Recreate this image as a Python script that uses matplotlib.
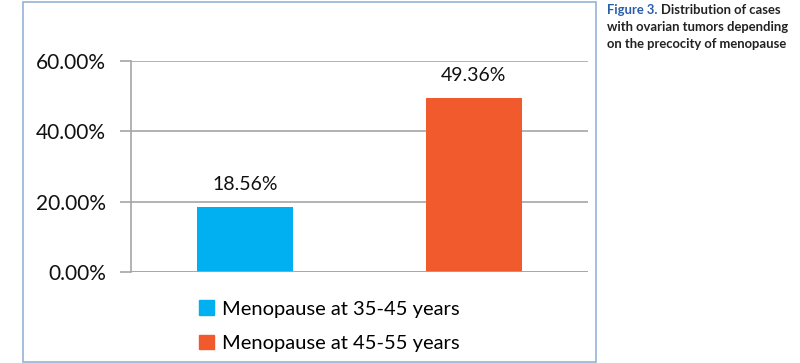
import matplotlib
matplotlib.use("Agg")
import matplotlib.pyplot as plt
from matplotlib.patches import Rectangle

categories = ["Menopause at 35-45 years", "Menopause at 45-55 years"]
values = [18.56, 49.36]
colors = ["#00b0f0", "#f15a2c"]
yticks = [0, 20, 40, 60]

plt.rcParams['font.family'] = ['Lato', 'DejaVu Sans']

fig = plt.figure(figsize=(8, 3.63), dpi=100)
W, H = 800, 363

# chart frame
fig.patches.append(Rectangle((23 / W, 1.5 / H), (596 - 23) / W, (361 - 1.5) / H,
                             transform=fig.transFigure, fill=False,
                             edgecolor="#95b3d7", linewidth=1.2))

ax = fig.add_axes([131 / W, 1 - 272 / H, (588 - 131) / W, (272 - 61) / H])
x = range(len(values))
bars = ax.bar(x, values, width=0.42, color=colors, zorder=3)
for b, v in zip(bars, values):
    ax.text(b.get_x() + b.get_width() / 2, v + 4, "%.2f%%" % v,
            ha="center", va="bottom", fontsize=14, color="#111111")

ax.set_xlim(-0.5, 1.5)
ax.set_ylim(0, 60)
ax.set_yticks(yticks)
ax.set_yticklabels(["%.2f%%" % t for t in yticks], fontsize=15, color="#111111")
ax.set_xticks([])
ax.yaxis.grid(True, color="#a6a6a6", linewidth=1.2, zorder=0)
ax.tick_params(axis="y", length=8, width=1.2, color="#a6a6a6", pad=10)
for s in ["top", "right", "bottom"]:
    ax.spines[s].set_visible(False)
ax.spines["left"].set_color("#a6a6a6")
ax.spines["left"].set_linewidth(1.2)
ax.axhline(0, color="#a6a6a6", linewidth=1.2, zorder=4)

# legend
handles = [Rectangle((0, 0), 1, 1, color=c) for c in colors]
fig.legend(handles, categories, loc="upper left", bbox_to_anchor=(181 / W, 1 - 282 / H),
           frameon=False, fontsize=14.5, handlelength=0.75, handleheight=0.75,
           handletextpad=0.4, labelspacing=0.85)

# caption
fs = 9.4
fig.text(607 / W, 1 - 4 / H, "Figure 3.", fontsize=fs, fontweight="bold",
         color="#2b5ea8", va="top", ha="left")
fig.text(661 / W, 1 - 4 / H, "Distribution of cases", fontsize=fs, fontweight="bold",
         color="#222222", va="top", ha="left")
fig.text(607 / W, 1 - 21 / H, "with ovarian tumors depending", fontsize=fs,
         fontweight="bold", color="#222222", va="top", ha="left")
fig.text(607 / W, 1 - 38 / H, "on the precocity of menopause", fontsize=fs,
         fontweight="bold", color="#222222", va="top", ha="left")

fig.savefig("out.png", dpi=100)
